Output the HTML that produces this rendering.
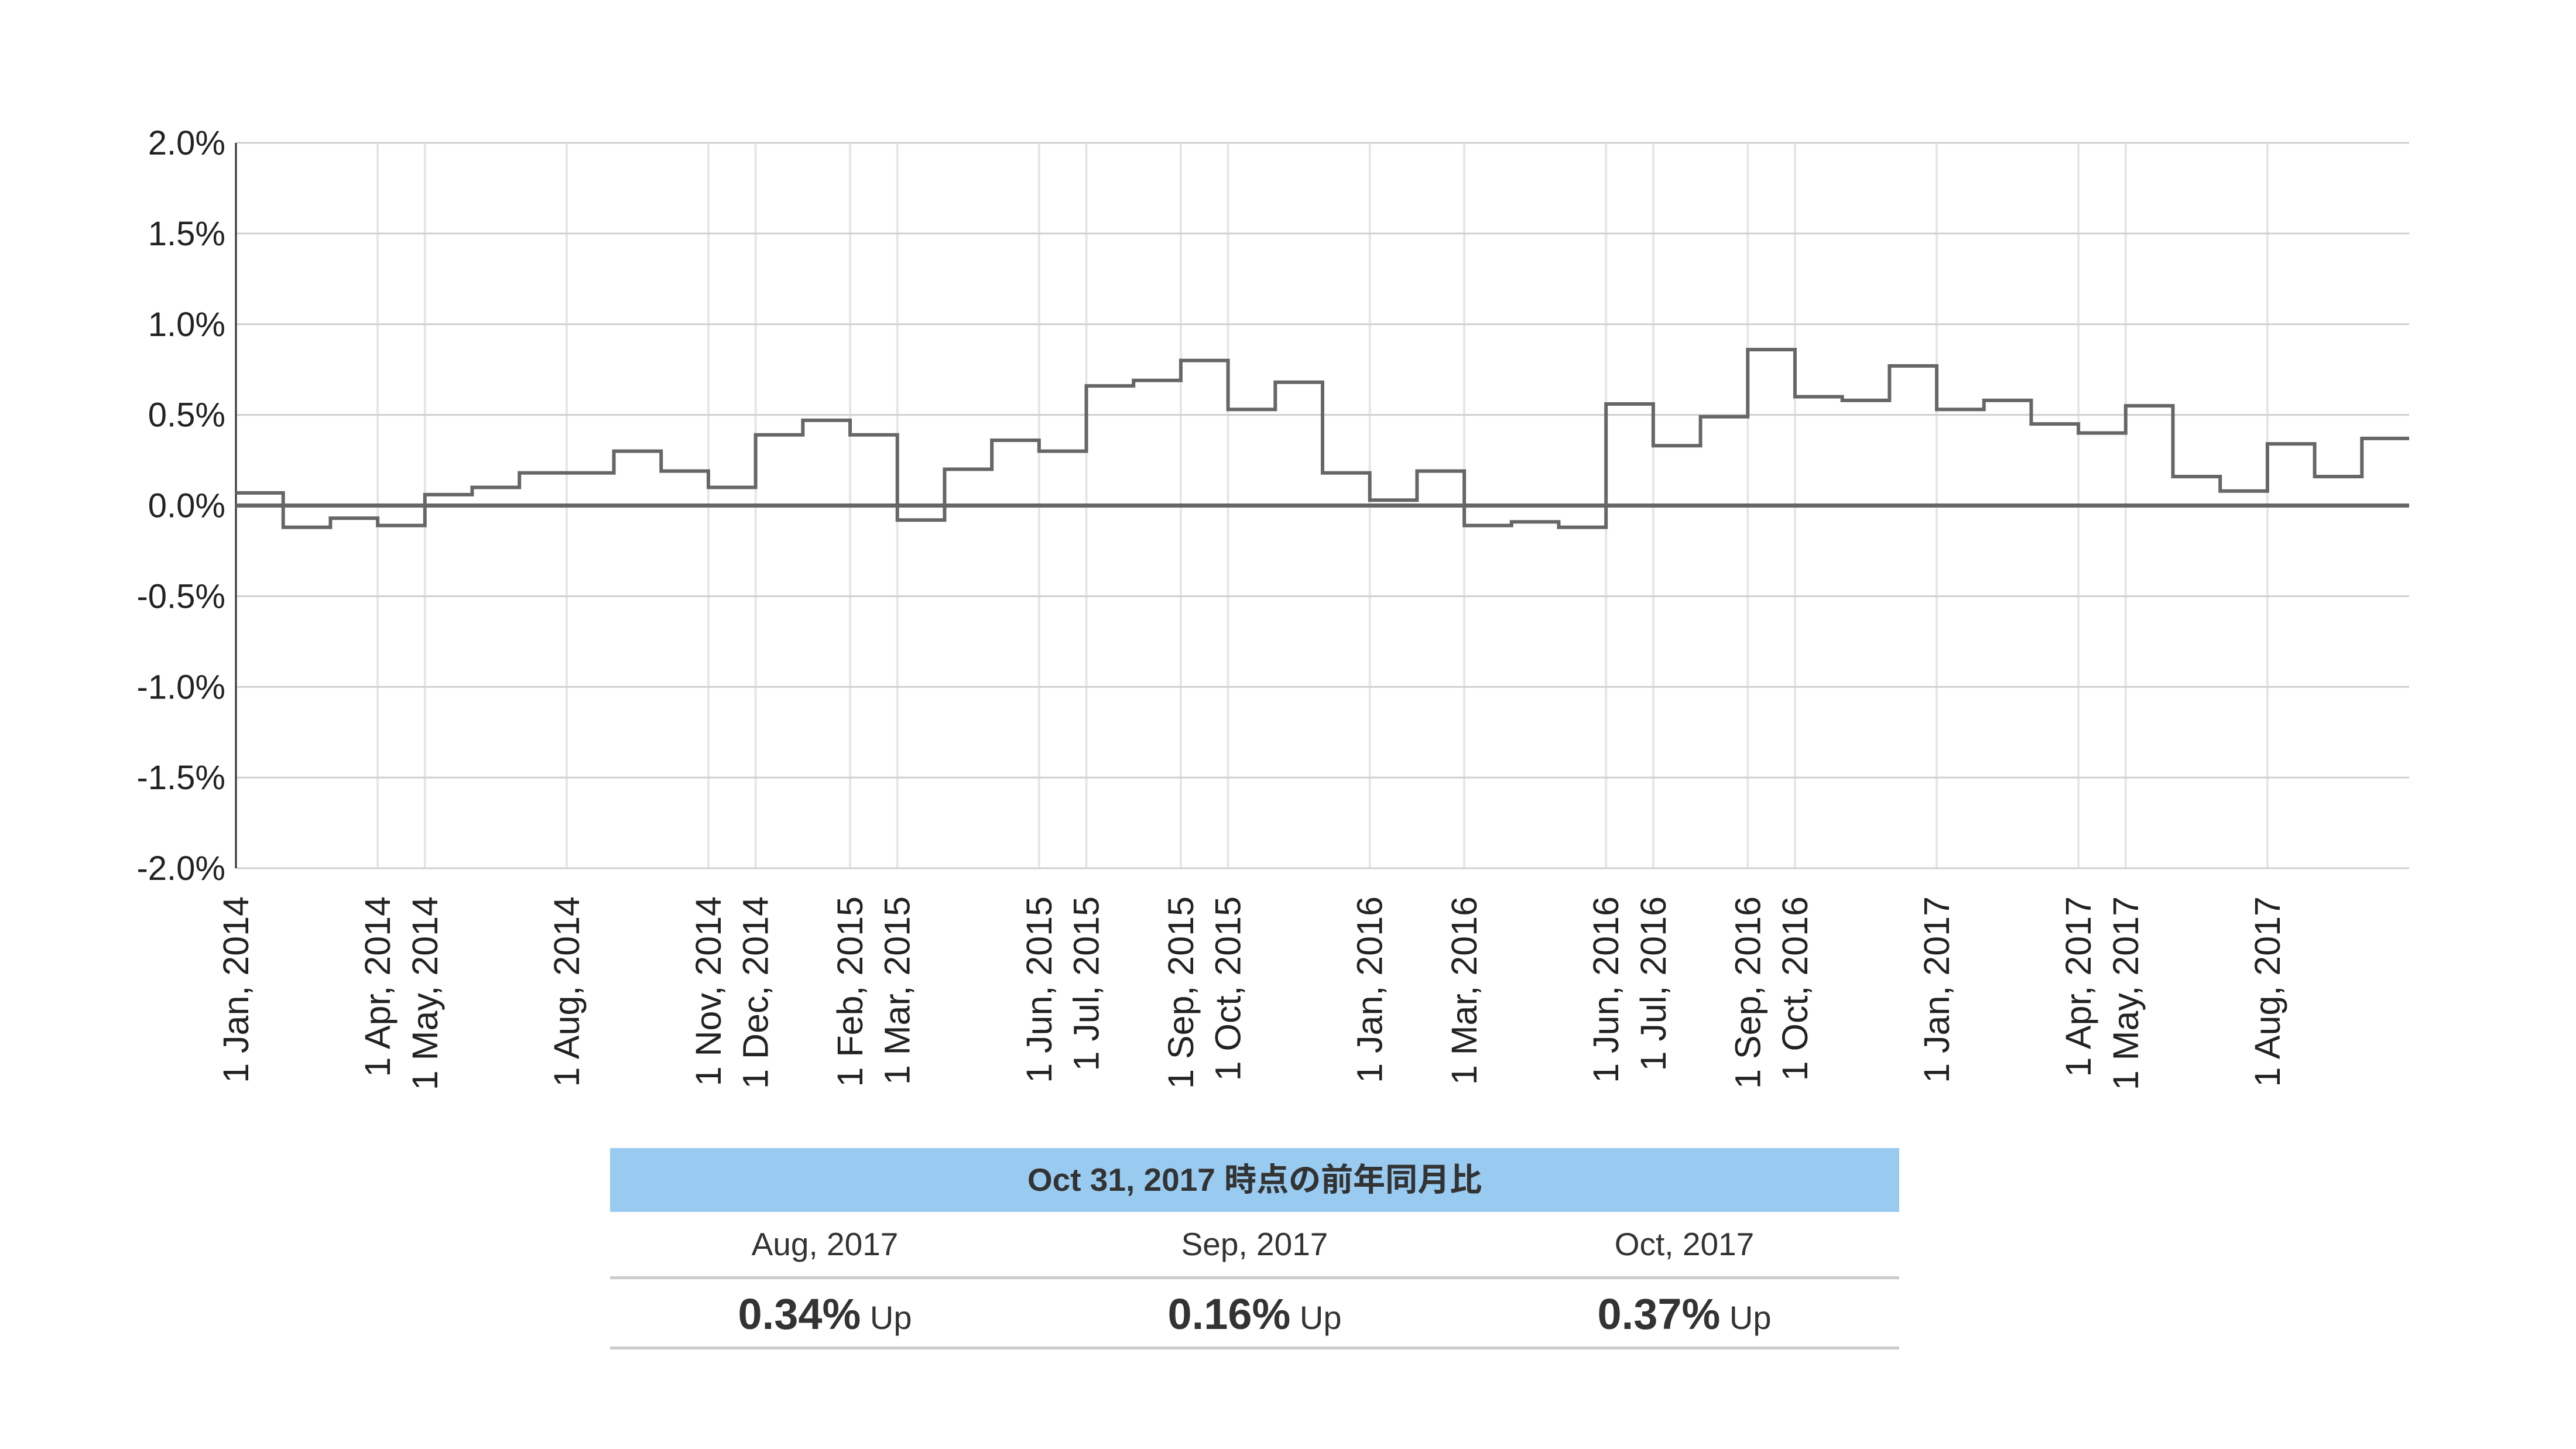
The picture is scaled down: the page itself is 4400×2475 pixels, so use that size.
<!DOCTYPE html>
<html><head><meta charset="utf-8">
<style>
body{margin:0;background:#fff;width:4400px;height:2475px;overflow:hidden;font-family:"Liberation Sans","Noto Sans CJK JP",sans-serif;}
svg{position:absolute;left:0;top:0;}
#tbl{position:absolute;left:1042px;top:1961px;width:2202px;}
.hdr{height:109px;background:#99cbf1;color:#333;font-weight:bold;font-size:55px;text-align:center;line-height:109px;}
.row{display:flex;}
.row div{flex:1;text-align:center;color:#333;}
.r1{height:110px;border-bottom:5px solid #ccc;}
.r1 div{font-size:55px;line-height:110px;}
.r2{height:115px;border-bottom:5px solid #ccc;}
.r2 div{line-height:120px;font-size:56px;}
.r2 b{font-size:74px;}
</style></head><body>
<svg id="chart" width="4400" height="1950"></svg>
<div id="tbl">
<div class="hdr">Oct 31, 2017 時点の前年同月比</div>
<div class="row r1"><div>Aug, 2017</div><div>Sep, 2017</div><div>Oct, 2017</div></div>
<div class="row r2"><div><b>0.34%</b> Up</div><div><b>0.16%</b> Up</div><div><b>0.37%</b> Up</div></div>
</div>
<script>
const values=[0.07,-0.12,-0.07,-0.11,0.06,0.10,0.18,0.18,0.30,0.19,0.10,0.39,
0.47,0.39,-0.08,0.20,0.36,0.30,0.66,0.69,0.80,0.53,0.68,0.18,
0.03,0.19,-0.11,-0.09,-0.12,0.56,0.33,0.49,0.86,0.60,0.58,0.77,
0.53,0.58,0.45,0.40,0.55,0.16,0.08,0.34,0.16,0.37];
const tickMonths=[0,3,4,7,10,11,13,14,17,18,20,21,24,26,29,30,32,33,36,39,40,43];
const tickLabels=["1 Jan, 2014","1 Apr, 2014","1 May, 2014","1 Aug, 2014","1 Nov, 2014","1 Dec, 2014","1 Feb, 2015","1 Mar, 2015","1 Jun, 2015","1 Jul, 2015","1 Sep, 2015","1 Oct, 2015","1 Jan, 2016","1 Mar, 2016","1 Jun, 2016","1 Jul, 2016","1 Sep, 2016","1 Oct, 2016","1 Jan, 2017","1 Apr, 2017","1 May, 2017","1 Aug, 2017"];
const yTicks=[2.0,1.5,1.0,0.5,0.0,-0.5,-1.0,-1.5,-2.0];
const X0=403,X1=4115,Y0=244,Y1=1483,NM=46;
const xs=m=>X0+(X1-X0)*m/NM;
const ys=v=>Y0+(2-v)/4*(Y1-Y0);
const svg=document.getElementById('chart');
const NS='http://www.w3.org/2000/svg';
function mk(t,a){const e=document.createElementNS(NS,t);for(const k in a)e.setAttribute(k,a[k]);svg.appendChild(e);return e;}
tickMonths.forEach((m,i)=>{
 const l=mk('line',{x1:xs(m),x2:xs(m),y1:Y0,y2:Y1,stroke:'#e6e6e6','stroke-width':4});
 
 
 const t=mk('text',{x:0,y:0,transform:`translate(${xs(m)+21},1531) rotate(-90)`,'text-anchor':'end','font-size':61,fill:'#222','font-family':'Liberation Sans, sans-serif'});
 t.textContent=tickLabels[i];
 
 
});
yTicks.forEach(v=>{
 const l=mk('line',{x1:X0,x2:X1,y1:ys(v),y2:ys(v),stroke:'#d0d0d0','stroke-width':3});
 
 
 const t=mk('text',{x:385,y:ys(v)+20,'text-anchor':'end','font-size':58,fill:'#222','font-family':'Liberation Sans, sans-serif'});
 t.textContent=v.toFixed(1)+'%';
 
 
});
const ax=mk('line',{x1:X0,x2:X0,y1:Y0,y2:Y1,stroke:'#333','stroke-width':3});


const z=mk('line',{x1:X0,x2:X1,y1:ys(0),y2:ys(0),stroke:'#666','stroke-width':7});


let d='';
values.forEach((v,i)=>{d+=(i?'L':'M')+xs(i)+','+ys(v)+'L'+xs(i+1)+','+ys(v);});
const p=mk('path',{d:d,fill:'none',stroke:'#666','stroke-width':6,'stroke-linejoin':'miter'});


</script>
</body></html>
